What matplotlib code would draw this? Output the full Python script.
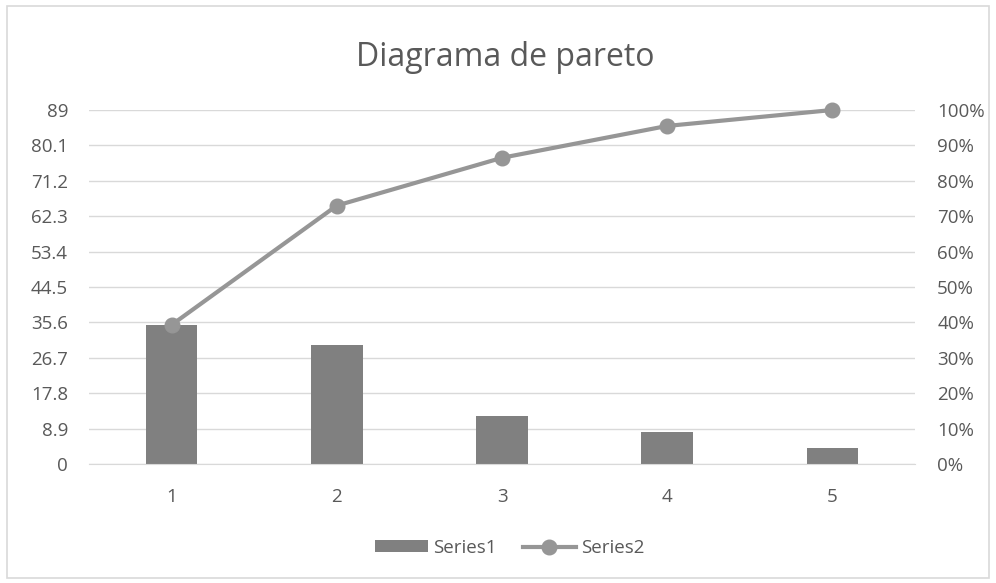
import matplotlib.pyplot as plt
from matplotlib.patches import Rectangle
from matplotlib.ticker import FixedLocator, FuncFormatter

plt.rcParams['font.family'] = ['Open Sans', 'DejaVu Sans']

categorias = [1, 2, 3, 4, 5]
frecuencias = [35, 30, 12, 8, 4]
porcentaje_acumulado = [0.393, 0.730, 0.865, 0.955, 1.000]
y_ticks = [0, 8.9, 17.8, 26.7, 35.6, 44.5, 53.4, 62.3, 71.2, 80.1, 89]
pct_ticks = [0, 0.1, 0.2, 0.3, 0.4, 0.5, 0.6, 0.7, 0.8, 0.9, 1.0]

texto = '#595959'
fig = plt.figure(figsize=(9.96, 5.83), dpi=100)
fig.patches.append(Rectangle((0.007, 0.008), 0.986, 0.982, transform=fig.transFigure,
                             fill=False, edgecolor='#d9d9d9', linewidth=1.2))

ax = fig.add_axes([89 / 996, 1 - 464 / 583, 826 / 996, 354 / 583])
x = list(range(len(categorias)))
ax.bar(x, frecuencias, width=0.313, color='#808080', label='Series1', zorder=2)
ax.set_xlim(-0.5, len(categorias) - 0.5)
ax.set_ylim(0, 89)
ax.yaxis.set_major_locator(FixedLocator(y_ticks))
ax.yaxis.set_major_formatter(FuncFormatter(lambda v, p: '%g' % round(v, 1)))
ax.set_xticks(x)
ax.set_xticklabels([str(c) for c in categorias])
ax.grid(axis='y', color='#d9d9d9', linewidth=1, zorder=0)
for s in ax.spines.values():
    s.set_visible(False)
ax.spines['bottom'].set_visible(True)
ax.spines['bottom'].set_color('#d9d9d9')
ax.tick_params(axis='both', length=0, colors=texto, labelsize=13.5)
ax.tick_params(axis='y', pad=15)
ax.tick_params(axis='x', pad=17)

ax2 = ax.twinx()
ax2.plot(x, porcentaje_acumulado, color='#969696', linewidth=3, marker='o',
         markersize=10.5, label='Series2', zorder=3, clip_on=False)
ax2.set_ylim(0, 1)
ax2.yaxis.set_major_locator(FixedLocator(pct_ticks))
ax2.yaxis.set_major_formatter(FuncFormatter(lambda v, p: '%d%%' % round(v * 100)))
for s in ax2.spines.values():
    s.set_visible(False)
ax2.tick_params(axis='y', length=0, colors=texto, labelsize=13.5, pad=16)

fig.text(505 / 996, 1 - 57 / 583, 'Diagrama de pareto', ha='center', va='center',
         fontsize=23, color=texto)

h1, l1 = ax.get_legend_handles_labels()
h2, l2 = ax2.get_legend_handles_labels()
fig.legend(h1 + h2, l1 + l2, loc='center', bbox_to_anchor=(0.512, 1 - 548 / 583),
           ncol=2, frameon=False, fontsize=13.5, labelcolor=texto,
           handlelength=2.8, handleheight=0.6, handletextpad=0.3, columnspacing=1.4)

fig.savefig('out.png', dpi=100)
